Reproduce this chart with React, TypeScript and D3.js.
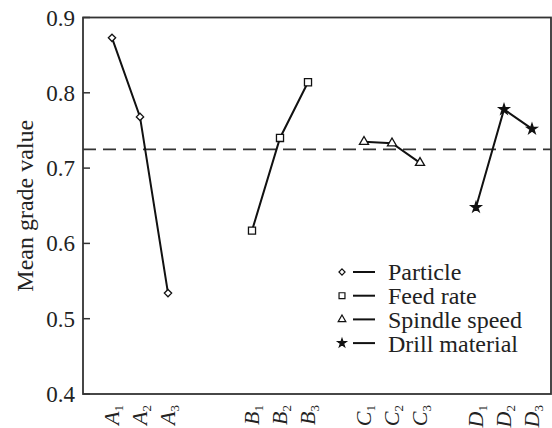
import React from "react";
import * as d3 from "d3";

const slots = ["A1", "A2", "A3", "", " ", "B1", "B2", "B3", "  ", "C1", "C2", "C3", "   ", "D1", "D2", "D3"];
const factorNames = ["Particle", "Feed rate", "Spindle speed", "Drill material"];
const letters = ["A", "B", "C", "D"];
const levelsIdx = ["1", "2", "3"];
const particle = [0.873, 0.768, 0.534];
const feedRate = [0.617, 0.740, 0.814];
const spindleSpeed = [0.735, 0.733, 0.707];
const drillMaterial = [0.648, 0.778, 0.752];
const yTicks = [0.4, 0.5, 0.6, 0.7, 0.8, 0.9];

const series = [particle, feedRate, spindleSpeed, drillMaterial];
const symbols = [d3.symbolDiamond2, d3.symbolSquare, d3.symbolTriangle, d3.symbolStar];
const symSizes = [34, 50, 36, 32];
const symFill = ["#fff", "#fff", "#fff", "#111"];

const W = 552, H = 428;
const left = 83, right = 551, top = 17.5, bottom = 394;

export default function App() {
  const x = d3.scalePoint<string>().domain(slots).range([112, 532]);
  const y = d3.scaleLinear().domain([0.4, 0.9]).range([bottom, top]);
  const mean = d3.mean(series.flat()) as number;
  const line = d3.line<[number, number]>().x(d => d[0]).y(d => d[1]);
  const ts = { fontFamily: "Liberation Serif" };

  return (
    <svg width={W} height={H} style={{ position: "absolute", left: 0, top: 0, background: "#fff" }}>
      <line x1={left} x2={right} y1={y(mean)} y2={y(mean)} stroke="#333" strokeWidth={1.6} strokeDasharray="13 7" />
      <rect x={left} y={top} width={right - left} height={bottom - top} fill="none" stroke="#333" strokeWidth={1.8} />
      {yTicks.map(t => (
        <g key={t}>
          <line x1={left} x2={left + 7} y1={y(t)} y2={y(t)} stroke="#333" strokeWidth={1.5} />
          <text x={left - 8} y={y(t)} dy="0.35em" textAnchor="end" fontSize={23} fill="#222" style={ts}>{t.toFixed(1)}</text>
        </g>
      ))}
      <text transform={`translate(25,${(top + bottom) / 2}) rotate(-90)`} textAnchor="middle" dy="0.35em" fontSize={24} fill="#222" style={ts}>Mean grade value</text>
      {series.map((vals, si) => {
        const pts: [number, number][] = vals.map((v, li) => [x(letters[si] + levelsIdx[li]) as number, y(v)]);
        const sym = d3.symbol().type(symbols[si]).size(symSizes[si]);
        return (
          <g key={si}>
            <path d={line(pts) as string} fill="none" stroke="#111" strokeWidth={2} />
            {pts.map((p, i) => (
              <path key={i} d={sym() as string} transform={`translate(${p[0]},${p[1]})`} fill={symFill[si]} stroke="#111" strokeWidth={1.3} />
            ))}
          </g>
        );
      })}
      {letters.map(L => levelsIdx.map(n => (
        <text key={L + n} transform={`translate(${(x(L + n) as number) + 7},405) rotate(-90)`} textAnchor="end" fontSize={22} fill="#222" style={ts}>
          <tspan fontStyle="italic">{L}</tspan>
          <tspan fontSize={13} dy={4}>{n}</tspan>
        </text>
      )))}
      {factorNames.map((name, i) => {
        const cy = 272 + i * 23.7;
        const sym = d3.symbol().type(symbols[i]).size(symSizes[i] * 0.7);
        return (
          <g key={name}>
            <path d={sym() as string} transform={`translate(342,${cy})`} fill={symFill[i]} stroke="#111" strokeWidth={1.2} />
            <line x1={353} x2={375} y1={cy} y2={cy} stroke="#111" strokeWidth={2} />
            <text x={388} y={cy} dy="0.35em" fontSize={24} fill="#222" style={ts}>{name}</text>
          </g>
        );
      })}
    </svg>
  );
}
